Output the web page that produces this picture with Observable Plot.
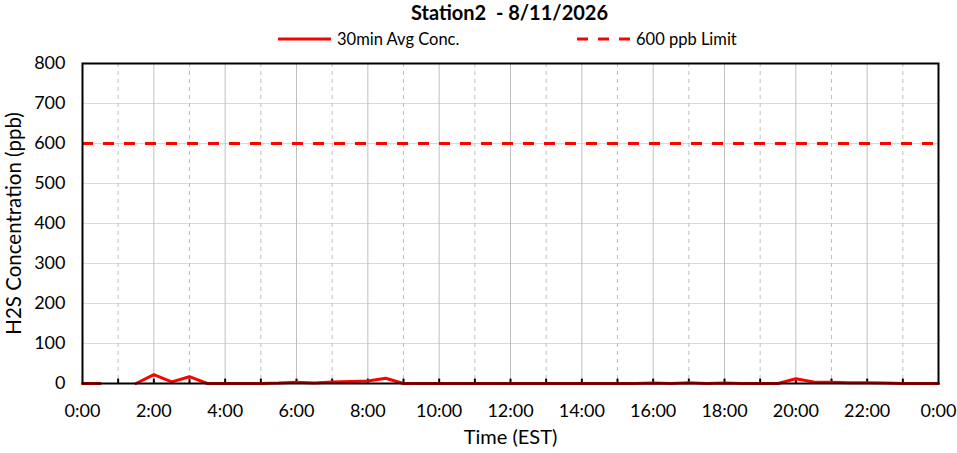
<!DOCTYPE html>
<html>
<head>
<meta charset="utf-8">
<script src="https://cdn.jsdelivr.net/npm/d3@7"></script>
<script src="https://cdn.jsdelivr.net/npm/@observablehq/plot@0.6"></script>
<style>
  html, body { margin: 0; padding: 0; background: #fff; }
  body { width: 957px; height: 453px; overflow: hidden; font-family: Lato, "Open Sans", sans-serif; }
  #title { height: 26px; line-height: 24px; text-align: center; font-weight: bold; font-size: 20px; padding-left: 62px; white-space: pre; }
  #legend { height: 20px; position: relative; font-size: 16.5px; }
  .item { position: absolute; top: 3px; display: flex; align-items: center; }
  .item svg { margin-right: 6px; }
</style>
</head>
<body>
<div id="title"></div>
<div id="legend"></div>
<div id="chart"></div>
<script>
const titleText = "Station2  - 8/11/2026";
const seriesName = "30min Avg Conc.";
const limitName = "600 ppb Limit";
const limitValue = 600;
const timeLabels = ["0:00","0:30","1:00","1:30","2:00","2:30","3:00","3:30","4:00","4:30","5:00","5:30","6:00","6:30","7:00","7:30","8:00","8:30","9:00","9:30","10:00","10:30","11:00","11:30","12:00","12:30","13:00","13:30","14:00","14:30","15:00","15:30","16:00","16:30","17:00","17:30","18:00","18:30","19:00","19:30","20:00","20:30","21:00","21:30","22:00","22:30","23:00","23:30","24:00"];
const concValues = [0,0,null,0,22,4,17,0,0,0,0,1,3,1,4,5,6,13,0,0,0,0,0,0,0,0,0,0,0,0,0,0,1,0,2,0,1,0,0,0,12,4,3,2,2,1,0,0,0];
const hourTicks = [0,1,2,3,4,5,6,7,8,9,10,11,12,13,14,15,16,17,18,19,20,21,22,23,24];
const labelTicks = [0,2,4,6,8,10,12,14,16,18,20,22,24];
const yTicks = [0,100,200,300,400,500,600,700,800];
const xTitle = "Time (EST)";
const yTitle = "H2S Concentration (ppb)";

const toHour = s => { const [h, m] = s.split(":").map(Number); return h + m / 60; };
const data = timeLabels.map((t, i) => ({ t: toHour(t), v: concValues[i] }));
const fmt = h => `${h % 24 === 0 && h > 0 ? 0 : h}:00`;

document.getElementById("title").textContent = titleText;
const legend = document.getElementById("legend");
legend.innerHTML = `
  <div class="item" style="left:278px"><svg width="53" height="10"><line x1="0" x2="53" y1="5" y2="5" stroke="#ff0000" stroke-width="3"/></svg>${seriesName}</div>
  <div class="item" style="left:577px"><svg width="53" height="10"><line x1="0" x2="53" y1="5" y2="5" stroke="#ff0000" stroke-width="3" stroke-dasharray="11,10"/></svg>${limitName}</div>`;

const inner = hourTicks.filter(h => h > 0 && h < 24);
const chart = Plot.plot({
  width: 957,
  height: 407,
  marginLeft: 82,
  marginRight: 19,
  marginTop: 17,
  marginBottom: 70,
  style: { fontFamily: "Lato, 'Open Sans', sans-serif", fontSize: "18px", color: "#000", background: "transparent", overflow: "visible" },
  x: { domain: [0, 24], ticks: labelTicks, tickFormat: fmt, label: null },
  y: { domain: [0, 800], ticks: yTicks, label: null },
  marks: [
    Plot.ruleY(yTicks.filter(d => d > 0), { stroke: "#d9d9d9", strokeWidth: 1 }),
    Plot.ruleX(inner.filter(h => h % 2 === 0), { stroke: "#bfbfbf", strokeWidth: 1 }),
    Plot.ruleX(inner.filter(h => h % 2 === 1), { stroke: "#bfbfbf", strokeWidth: 1, strokeDasharray: "4,4" }),
    Plot.ruleX(inner, { x: d => d, y1: d => 0, y2: d => 11, stroke: "#000", strokeWidth: 2 }),
    Plot.ruleY([limitValue], { stroke: "#ff0000", strokeWidth: 3, strokeDasharray: "11,10" }),
    Plot.line(data, { x: "t", y: "v", stroke: "#ff0000", strokeWidth: 3 }),
    Plot.frame({ stroke: "#000", strokeWidth: 2 }),
    Plot.axisX({ ticks: labelTicks, tickFormat: fmt, tickSize: 0, tickPadding: 21, fontSize: 18, label: null }),
    Plot.axisY({ ticks: yTicks, tickSize: 0, tickPadding: 17, fontSize: 18, label: null }),
    Plot.text([xTitle], { frameAnchor: "bottom", dy: 60, fontSize: 20, text: d => d }),
    Plot.text([yTitle], { frameAnchor: "left", textAnchor: "middle", dx: -68, rotate: -90, fontSize: 20.5, text: d => d })
  ]
});
document.getElementById("chart").appendChild(chart);
</script>
</body>
</html>
